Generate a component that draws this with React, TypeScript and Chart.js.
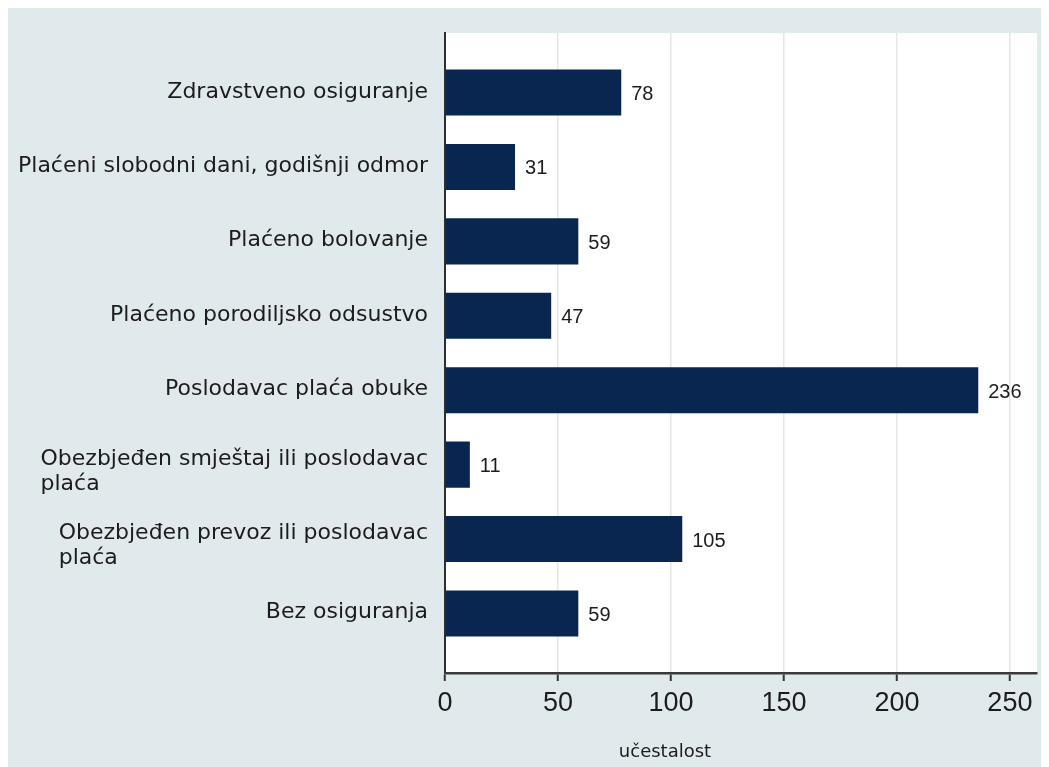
import React, { useEffect, useRef } from 'react';
import { Chart, registerables } from 'chart.js';

Chart.register(...registerables);

// ---- data ----
const categories: string[][] = [
  ['Zdravstveno osiguranje'],
  ['Plaćeni slobodni dani, godišnji odmor'],
  ['Plaćeno bolovanje'],
  ['Plaćeno porodiljsko odsustvo'],
  ['Poslodavac plaća obuke'],
  ['Obezbjeđen smještaj ili poslodavac', 'plaća'],
  ['Obezbjeđen prevoz ili poslodavac', 'plaća'],
  ['Bez osiguranja'],
];
const values: number[] = [78, 31, 59, 47, 236, 11, 105, 59];
const xTicks: number[] = [0, 50, 100, 150, 200, 250];
const xMax = 262;
const xTitle = 'učestalost';

// ---- style ----
const PANEL = '#e0eaec';
const BAR = '#08264f';
const TEXT = '#1c1c1c';
const LABEL_FONT = '22px "DejaVu Sans", sans-serif';
const NUM_FONT = '20px "Liberation Sans", Arial, sans-serif';
const TITLE_FONT = '18px "DejaVu Sans", sans-serif';
const W = 1041;
const H = 759;

const decor = {
  id: 'decor',
  beforeDraw(chart: any) {
    const { ctx, chartArea: a } = chart;
    ctx.save();
    ctx.fillStyle = '#ffffff';
    ctx.fillRect(a.left, a.top, a.right - a.left, a.bottom - a.top);
    ctx.restore();
  },
  afterDatasetsDraw(chart: any) {
    const { ctx } = chart;
    const meta = chart.getDatasetMeta(0);
    ctx.save();
    ctx.font = NUM_FONT;
    ctx.fillStyle = TEXT;
    ctx.textAlign = 'left';
    ctx.textBaseline = 'alphabetic';
    meta.data.forEach((bar: any, i: number) => {
      ctx.fillText(String(values[i]), bar.x + 10, bar.y + 7.5);
    });
    ctx.restore();
  },
  afterDraw(chart: any) {
    const { ctx, chartArea: a } = chart;
    const yScale = chart.scales.y;
    ctx.save();
    ctx.font = LABEL_FONT;
    ctx.fillStyle = TEXT;
    ctx.textAlign = 'left';
    ctx.textBaseline = 'alphabetic';
    const rightEdge = a.left - 17;
    categories.forEach((lines, i) => {
      const yc = yScale.getPixelForValue(i);
      const maxW = Math.max(...lines.map((l) => ctx.measureText(l).width));
      const x0 = rightEdge - maxW;
      const first = lines.length === 1 ? 5 : 0;
      lines.forEach((l, k) => {
        ctx.fillText(l, x0, yc + first + k * 25);
      });
    });
    ctx.font = TITLE_FONT;
    ctx.textAlign = 'center';
    ctx.fillText(xTitle, a.left + 220, a.bottom + 84);
    ctx.restore();
  },
};

export default function App() {
  const ref = useRef<HTMLCanvasElement | null>(null);

  useEffect(() => {
    document.documentElement.style.overflow = 'hidden';
    const canvas = ref.current;
    if (!canvas) return;
    const chart = new Chart(canvas, {
      type: 'bar',
      data: {
        datasets: [
          {
            data: values.map((v, i) => ({ x: v, y: i })) as any,
            backgroundColor: BAR,
            borderWidth: 0,
            categoryPercentage: 1,
            barPercentage: 0.62,
          },
        ],
      },
      options: {
        indexAxis: 'y',
        responsive: false,
        animation: false,
        layout: { padding: { top: 25, right: 12, left: 0, bottom: 0 } },
        plugins: {
          legend: { display: false },
          tooltip: { enabled: false },
          title: { display: false },
        },
        scales: {
          y: {
            type: 'linear',
            reverse: true,
            offset: false,
            min: -0.8,
            max: 7.8,
            afterBuildTicks: (s: any) => {
              s.ticks = categories.map((_, i) => ({ value: i }));
            },
            afterFit: (s: any) => {
              s.width = 437;
            },
            ticks: { display: false },
            grid: { display: false, drawTicks: false, offset: false },
            border: { display: true, color: '#2e2e2e', width: 2 },
          },
          x: {
            type: 'linear',
            min: 0,
            max: xMax,
            afterBuildTicks: (s: any) => {
              s.ticks = xTicks.map((v) => ({ value: v }));
            },
            afterFit: (s: any) => {
              s.height = H - 665;
            },
            ticks: {
              color: TEXT,
              font: { family: '"Liberation Sans", Arial, sans-serif', size: 27 },
              padding: 6,
              maxRotation: 0,
            },
            grid: {
              color: '#e6e6e6',
              lineWidth: 1.5,
              drawTicks: true,
              tickLength: 8,
              tickColor: '#333333',
              tickWidth: 2,
            },
            border: { display: true, color: '#3a3a3a', width: 2.5 },
          },
        },
      },
      plugins: [decor],
    });
    return () => chart.destroy();
  }, []);

  return (
    <div style={{ width: W, height: H, background: PANEL }}>
      <canvas ref={ref} width={W} height={H} style={{ display: 'block' }} />
    </div>
  );
}
